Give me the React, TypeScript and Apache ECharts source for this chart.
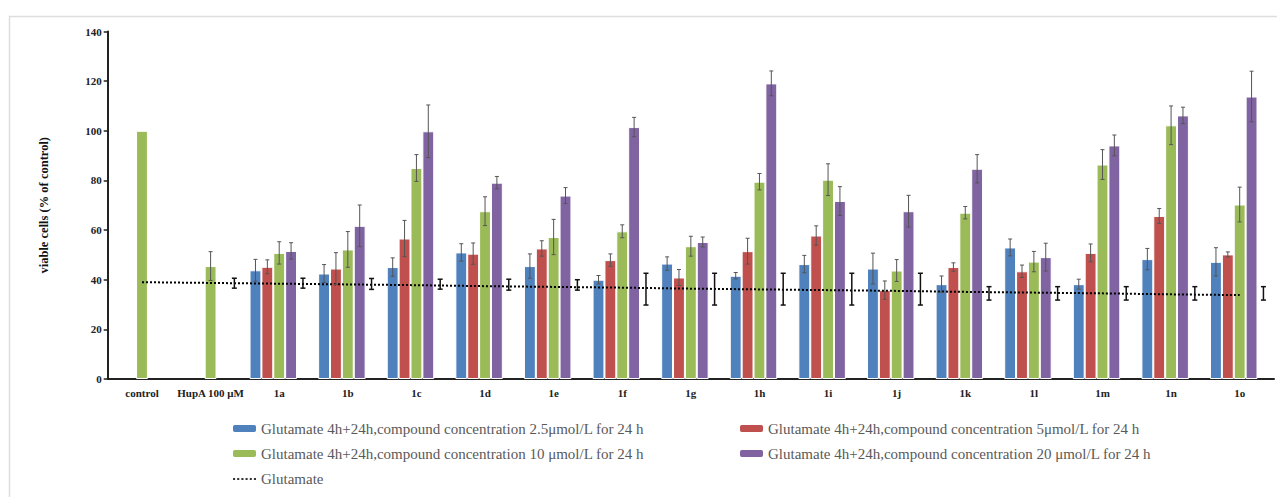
import React, { useEffect, useRef } from "react";
import * as echarts from "echarts";

const categories = ["control", "HupA 100 μM", "1a", "1b", "1c", "1d", "1e", "1f", "1g", "1h", "1i", "1j", "1k", "1l", "1m", "1n", "1o"];

const seriesNames = [
  "Glutamate 4h+24h,compound concentration 2.5μmol/L for 24 h",
  "Glutamate 4h+24h,compound concentration 5μmol/L for 24 h",
  "Glutamate 4h+24h,compound concentration 10 μmol/L for 24 h",
  "Glutamate 4h+24h,compound concentration 20 μmol/L for 24 h",
];
const lineName = "Glutamate";

const blue = [null, null, 43.8, 42.5, 45.1, 51.0, 45.5, 40.0, 46.5, 41.6, 46.3, 44.5, 38.2, 53.0, 38.2, 48.3, 47.2];
const blueErr = [null, null, 4.4, 3.6, 3.7, 3.5, 4.9, 1.7, 2.7, 1.3, 3.5, 6.2, 3.3, 3.4, 2.0, 4.3, 5.7];
const red = [null, null, 45.2, 44.5, 56.6, 50.5, 52.6, 47.9, 40.9, 51.5, 57.8, 35.8, 45.1, 43.4, 50.8, 65.7, 50.2];
const redErr = [null, null, 2.8, 6.4, 7.3, 4.3, 3.1, 2.5, 3.2, 5.2, 3.9, 3.7, 1.7, 2.5, 3.6, 3.0, 1.0];
const green = [100, 45.5, 50.8, 52.2, 85.0, 67.6, 57.2, 59.5, 53.5, 79.5, 80.3, 43.7, 67.0, 47.3, 86.4, 102.2, 70.3];
const greenErr = [null, 5.8, 4.5, 7.2, 5.4, 5.8, 7.1, 2.6, 4.0, 3.3, 6.4, 4.4, 2.5, 4.1, 6.0, 7.8, 7.0];
const purple = [null, null, 51.6, 61.7, 99.8, 79.1, 73.9, 101.5, 55.2, 119.1, 71.7, 67.6, 84.7, 49.1, 94.1, 106.2, 113.8];
const purpleErr = [null, null, 3.3, 8.4, 10.6, 2.5, 3.2, 3.9, 2.0, 5.0, 5.8, 6.4, 5.7, 5.6, 4.2, 3.3, 10.2];

const glutamateLine = [39.0, 38.7, 38.4, 38.1, 37.8, 37.4, 37.1, 36.8, 36.4, 36.1, 35.8, 35.5, 35.1, 34.8, 34.5, 34.1, 33.8];
const glutamateMid = [null, 38.6, 38.6, 38.3, 38.2, 38.0, 37.9, 36.2, 36.2, 36.2, 36.2, 36.2, 34.5, 34.5, 34.5, 34.5, 34.5];
const glutamateErr = [null, 2.0, 2.0, 2.2, 2.0, 2.2, 2.1, 6.4, 6.4, 6.4, 6.4, 6.4, 2.7, 2.7, 2.7, 2.7, 2.7];

const yTicks = { min: 0, max: 140, interval: 20 };

const colors = ["#4F81BD", "#C0504D", "#9BBB59", "#8064A2"];
const SLOT = 0.173;
const DOTS_ICON = "path://M0,0h2v2h-2zM4,0h2v2h-2zM8,0h2v2h-2zM12,0h2v2h-2zM16,0h2v2h-2zM20,0h2v2h-2z";

export default function App() {
  const ref = useRef<HTMLDivElement>(null);
  useEffect(() => {
    if (!ref.current) return;
    const chart = echarts.init(ref.current, null, { renderer: "svg" });

    const values = [blue, red, green, purple];
    const errs = [blueErr, redErr, greenErr, purpleErr];
    const barErrData: any[] = [];
    values.forEach((arr, k) => {
      arr.forEach((v, i) => {
        const e = errs[k][i];
        if (v != null && e != null) barErrData.push([i, v, e, k]);
      });
    });
    const gluErrData: any[] = [];
    glutamateMid.forEach((v, i) => {
      const e = glutamateErr[i];
      if (v != null && e != null) gluErrData.push([i, v, e, 4]);
    });

    const makeErr = (cap: number, color: string, lw: number) => (params: any, api: any) => {
      const i = api.value(0);
      const v = api.value(1);
      const e = api.value(2);
      const slot = api.value(3);
      const band = api.size([1, 0])[0];
      const base = api.coord([i, v]);
      const x = base[0] + (slot - 2) * band * SLOT;
      const yTop = api.coord([i, v + e])[1];
      const yBot = api.coord([i, v - e])[1];
      const style = { stroke: color, lineWidth: lw };
      return {
        type: "group",
        children: [
          { type: "line", shape: { x1: x, y1: yTop, x2: x, y2: yBot }, style },
          { type: "line", shape: { x1: x - cap, y1: yTop, x2: x + cap, y2: yTop }, style },
          { type: "line", shape: { x1: x - cap, y1: yBot, x2: x + cap, y2: yBot }, style },
        ],
      };
    };

    const font = "'Liberation Serif', 'Times New Roman', serif";
    const legendBase = {
      orient: "horizontal",
      padding: 0,
      itemWidth: 23,
      itemHeight: 7,
      selectedMode: false,
      itemStyle: { borderWidth: 0 },
      textStyle: { fontFamily: font, fontSize: 15, color: "#595959" },
    };

    const barSeries = seriesNames.map((name, k) => ({
      type: "bar",
      name,
      data: values[k].map((v) => (v == null ? "-" : v)),
      barWidth: SLOT * 100 + "%",
      barGap: "0%",
      itemStyle: { color: colors[k], borderColor: "#fff", borderWidth: 1 },
      z: 2,
    }));

    chart.setOption({
      animation: false,
      backgroundColor: "#fff",
      graphic: [
        {
          type: "rect",
          shape: { x: 9.5, y: 16.5, width: 1300, height: 500 },
          style: { fill: "none", stroke: "#dedede", lineWidth: 1.5 },
          silent: true,
        },
      ],
      grid: { left: 107.7, right: 3, top: 31.5, bottom: 118 },
      legend: [
        { ...legendBase, data: [seriesNames[0]], left: 233, top: 421 },
        { ...legendBase, data: [seriesNames[1]], left: 740, top: 421 },
        { ...legendBase, data: [seriesNames[2]], left: 233, top: 446 },
        { ...legendBase, data: [seriesNames[3]], left: 740, top: 446 },
        {
          ...legendBase,
          data: [{ name: lineName, icon: DOTS_ICON, itemStyle: { color: "#333", borderWidth: 0 } }],
          left: 233,
          top: 471.5,
        },
      ],
      xAxis: {
        type: "category",
        data: categories,
        boundaryGap: true,
        axisLine: { show: true, lineStyle: { color: "#222", width: 2 } },
        axisTick: { show: false },
        axisLabel: {
          interval: 0,
          margin: 8,
          fontFamily: font,
          fontWeight: "bold",
          fontSize: 11,
          color: "#222",
        },
        splitLine: { show: false },
      },
      yAxis: {
        type: "value",
        min: yTicks.min,
        max: yTicks.max,
        interval: yTicks.interval,
        name: "viable cells (% of control)",
        nameLocation: "middle",
        nameRotate: 90,
        nameGap: 57,
        nameTextStyle: { fontFamily: font, fontWeight: "bold", fontSize: 12.5, color: "#111" },
        axisLine: { show: true, lineStyle: { color: "#222", width: 2 } },
        axisTick: { show: true, length: 4, lineStyle: { color: "#222", width: 1.5 } },
        axisLabel: { margin: 6, fontFamily: font, fontWeight: "bold", fontSize: 11, color: "#222" },
        splitLine: { show: false },
      },
      series: [
        ...barSeries,
        {
          type: "bar",
          name: "glutamate-slot",
          data: categories.map(() => "-"),
          barWidth: SLOT * 100 + "%",
          barGap: "0%",
          itemStyle: { color: "transparent" },
        },
        {
          type: "line",
          name: lineName,
          data: glutamateLine,
          symbol: "none",
          lineStyle: { color: "#000", width: 2, type: [2, 2] },
          itemStyle: { color: "#000" },
          z: 3,
        },
        {
          type: "custom",
          name: "bar-errors",
          data: barErrData,
          encode: { x: 0, y: 1 },
          renderItem: makeErr(2, "#555", 1),
          z: 4,
          silent: true,
        },
        {
          type: "custom",
          name: "glutamate-errors",
          data: gluErrData,
          encode: { x: 0, y: 1 },
          renderItem: makeErr(2.5, "#111", 1.5),
          z: 4,
          silent: true,
        },
      ],
    });
    return () => chart.dispose();
  }, []);

  return (
    <div
      ref={ref}
      style={{ position: "fixed", left: 0, top: 0, width: "1277px", height: "497px", background: "#fff" }}
    />
  );
}
